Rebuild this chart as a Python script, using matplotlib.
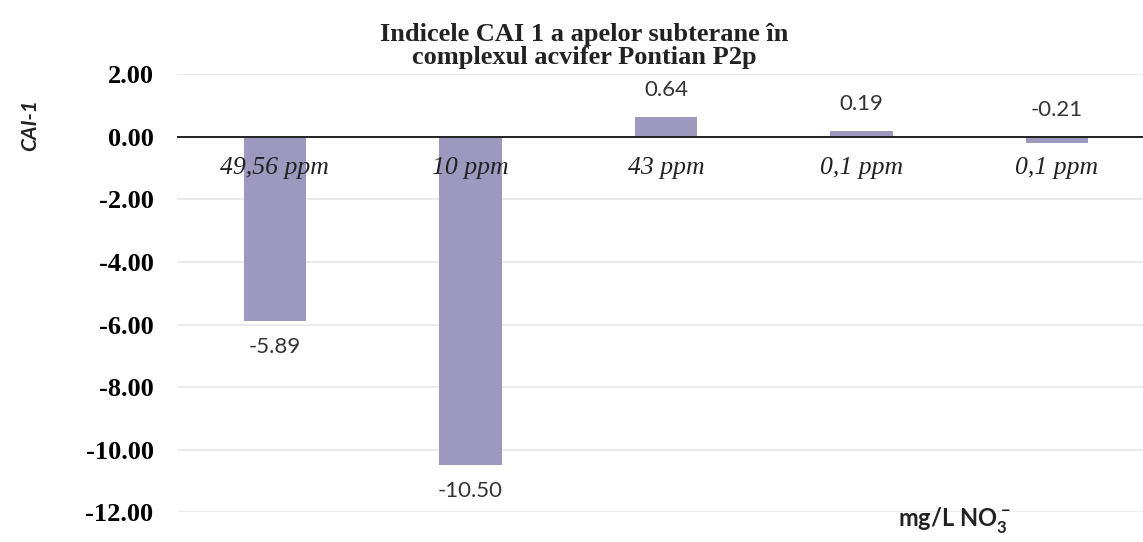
import matplotlib.pyplot as plt

# CAI-1 values per sampling point, with the nitrate concentration shown under each bar
categories = ["49,56 ppm", "10 ppm", "43 ppm", "0,1 ppm", "0,1 ppm"]
cai_values = [-5.89, -10.50, 0.64, 0.19, -0.21]
y_ticks = [2, 0, -2, -4, -6, -8, -10, -12]

bar_color = "#9d98bd"

plt.rcParams["mathtext.fontset"] = "custom"
plt.rcParams["mathtext.bf"] = "Lato:bold"
plt.rcParams["mathtext.rm"] = "Lato:bold"

fig = plt.figure(figsize=(11.43, 5.42), dpi=100)
ax = fig.add_axes([0.155, 0.055, 0.845, 0.808])

x = list(range(len(categories)))
ax.bar(x, cai_values, width=0.32, color=bar_color, zorder=3)

ax.set_xlim(-0.5, 4.44)
ax.set_ylim(-12, 2)
ax.set_yticks(y_ticks)
ax.set_yticklabels([f"{t:.2f}" for t in y_ticks], family="Liberation Serif",
                   fontweight="bold", fontsize=19)
ax.tick_params(axis="y", length=0, pad=17)
ax.set_xticks([])

for spine in ax.spines.values():
    spine.set_visible(False)
ax.grid(axis="y", color="#e8e8e8", linewidth=1.2, zorder=0)
ax.axhline(0, color="#222222", linewidth=1.4, zorder=4)

# category labels sit right under the zero line
for xi, label in zip(x, categories):
    ax.text(xi, -1.0, label, ha="center", va="center", family="Liberation Serif",
            style="italic", fontsize=18.5, color="#222222", zorder=5)

# value labels above positive bars and below the long negative bars
for xi, v in zip(x, cai_values):
    if v < -1:
        ax.text(xi, v - 0.5, f"{v:.2f}", ha="center", va="top",
                family="Lato", fontsize=16, color="#333333")
    else:
        ax.text(xi, max(v, 0) + 0.55, f"{v:.2f}", ha="center", va="bottom",
                family="Lato", fontsize=16, color="#333333")

fig.text(0.511, 0.915, "Indicele CAI 1 a apelor subterane în\ncomplexul acvifer Pontian P2p",
         ha="center", va="center", family="Liberation Serif", fontweight="bold",
         fontsize=19, linespacing=1.0, color="#222222")

fig.text(0.026, 0.769, "CAI-1", rotation=90, ha="center", va="center",
         family="Lato", fontweight="bold", style="italic", fontsize=15, color="#222222")

fig.text(0.835, 0.012, r"mg/L NO$_3^-$", ha="center", va="bottom", family="Lato",
         fontweight="bold", fontsize=17, color="#222222")

fig.savefig("out.png", dpi=100, facecolor="white")
